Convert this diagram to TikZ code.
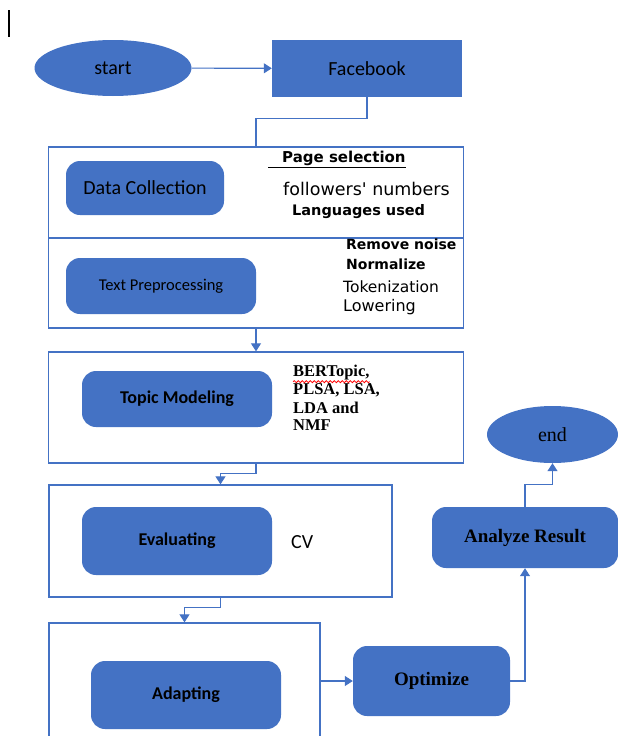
\documentclass[tikz,border=0pt]{standalone}
\usepackage{fontspec}
\setmainfont{Liberation Serif}
\newfontfamily\carlito{Carlito}
\newfontfamily\dejavu{DejaVu Sans}
\usetikzlibrary{shapes.geometric, arrows.meta, decorations.pathmorphing}
\definecolor{officeblue}{RGB}{68,114,196}

\begin{document}
\begin{tikzpicture}[x=1pt,y=-1pt]
	\tikzstyle{terminal} = [ellipse,fill=officeblue,inner sep=0pt]
	\tikzstyle{source} = [rectangle,fill=officeblue,inner sep=0pt]
	\tikzstyle{stage} = [rectangle,rounded corners=14pt,fill=officeblue,inner sep=0pt]
	\tikzstyle{frame} = [rectangle,draw=officeblue,line width=1.3pt,fill=white,inner sep=0pt]
	\tikzstyle{note} = [anchor=west,inner sep=0pt]
	\tikzstyle{edge} = [draw=officeblue,line width=1.1pt]
	\tikzstyle{arrow} = [edge,-{Triangle[length=8pt,width=10pt]}]
	\useasboundingbox (0,0) rectangle (618,736);
	\draw[line width=1.5pt] (9,10) -- (9,37);
	\node[terminal,minimum width=157pt,minimum height=56pt,font=\carlito\fontsize{20}{24}\selectfont] (start) at (113,68) {start};
	\node[source,minimum width=190pt,minimum height=57pt,font=\carlito\fontsize{20}{24}\selectfont] (fb) at (367,68.5) {Facebook};
	\node[frame,minimum width=415pt,minimum height=91pt] (box1a) at (256,192.5) {};
	\node[frame,minimum width=415pt,minimum height=90pt] (box1b) at (256,283) {};
	\node[frame,minimum width=415pt,minimum height=111pt] (box2) at (256,407.5) {};
	\node[frame,minimum width=343pt,minimum height=112pt] (box3) at (220.5,541) {};
	\node[frame,minimum width=271pt,minimum height=116pt] (box4) at (184.5,681) {};
	\node[stage,minimum width=158pt,minimum height=54pt,font=\carlito\fontsize{20}{24}\selectfont] (datacoll) at (145,188) {Data Collection};
	\node[stage,minimum width=190pt,minimum height=56pt,font=\carlito\fontsize{16.5}{20}\selectfont] (textpre) at (161,286) {Text Preprocessing};
	\node[stage,minimum width=190pt,minimum height=56pt,font=\carlito\bfseries\fontsize{18}{22}\selectfont] (topic) at (177,399) {Topic Modeling};
	\node[stage,minimum width=190pt,minimum height=68pt,font=\carlito\bfseries\fontsize{18}{22}\selectfont] (eval) at (177,541) {Evaluating};
	\node[stage,minimum width=190pt,minimum height=68pt,font=\carlito\bfseries\fontsize{18}{22}\selectfont] (adapt) at (186,695) {Adapting};
	\node[stage,minimum width=157pt,minimum height=70pt,font=\bfseries\fontsize{19}{23}\selectfont] (opt) at (431.5,681) {Optimize};
	\node[stage,minimum width=186pt,minimum height=61pt,font=\bfseries\fontsize{19}{23}\selectfont] (analyze) at (525,537.5) {Analyze Result};
	\node[terminal,minimum width=131pt,minimum height=57pt,font=\fontsize{20}{24}\selectfont] (stop) at (552.5,434.5) {end};
	\node[note,font=\dejavu\bfseries\fontsize{15}{18}\selectfont] (psel) at (268,159) {\underline{\hspace{14pt}Page selection}};
	\node[note,font=\dejavu\fontsize{17.5}{21}\selectfont] (foll) at (283,189) {followers' numbers};
	\node[note,font=\dejavu\bfseries\fontsize{14.5}{17}\selectfont] (lang) at (292,212) {Languages used};
	\node[note,font=\dejavu\bfseries\fontsize{14}{17}\selectfont] (noise) at (346,244) {Remove noise};
	\node[note,font=\dejavu\bfseries\fontsize{14}{17}\selectfont] (norm) at (346,264) {Normalize};
	\node[note,font=\dejavu\fontsize{15.5}{18}\selectfont] (tok) at (343,287) {Tokenization};
	\node[note,font=\dejavu\fontsize{16}{19}\selectfont] (low) at (343,307) {Lowering};
	\node[note,font=\bfseries\fontsize{16.5}{19}\selectfont] (bert) at (293,373) {BERTopic,};
	\node[note,font=\bfseries\fontsize{16.5}{19}\selectfont] (plsa) at (293,390) {PLSA, LSA,};
	\node[note,font=\bfseries\fontsize{16.5}{19}\selectfont] (lda) at (293,408) {LDA and};
	\node[note,font=\bfseries\fontsize{16.5}{19}\selectfont] (nmf) at (293,425) {NMF};
	\node[note,font=\carlito\fontsize{20}{24}\selectfont] (cv) at (291,542) {CV};
	
	\draw[red,line width=0.8pt,decorate,decoration={snake,amplitude=1pt,segment length=4pt}] ([yshift=-1pt]bert.south west) -- ([yshift=-1pt]bert.south east);
	\draw[arrow] (start) -- (fb);
	\draw[edge] (fb.south) -- ++(0,21) -| (box1a.north);
	\draw[arrow] (box1b.south) -- (box2.north);
	\draw[arrow] (box2.south) -- ++(0,10) -| (box3.north);
	\draw[arrow] (box3.south) -- ++(0,10) -| (box4.north);
	\draw[arrow] (box4.east |- opt.west) -- (opt.west);
	\draw[arrow] (opt.east) -| (analyze.south);
	\draw[arrow] (analyze.north) -- ++(0,-22) -| (stop.south);
\end{tikzpicture}
\end{document}
